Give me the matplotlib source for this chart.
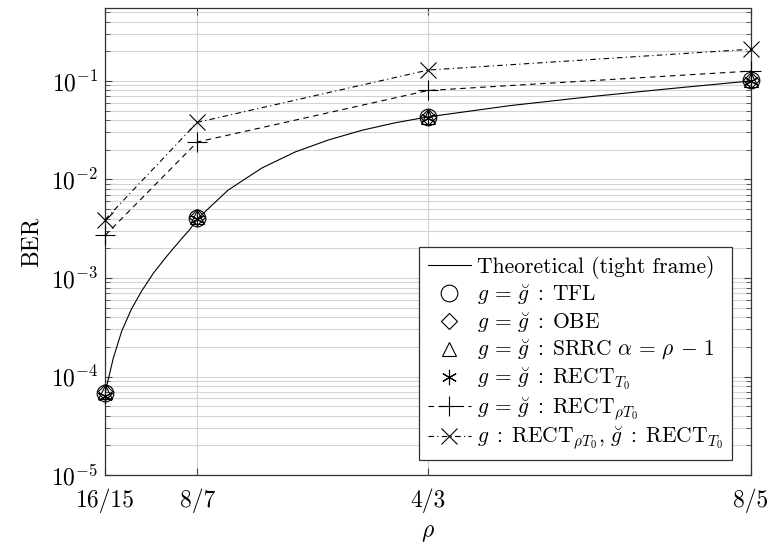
import matplotlib
matplotlib.use('Agg')
import matplotlib.pyplot as plt
from matplotlib.ticker import FixedLocator, LogLocator, NullFormatter

plt.rcParams['font.family'] = 'serif'
plt.rcParams['font.serif'] = ['cmr10', 'DejaVu Serif']
plt.rcParams['mathtext.fontset'] = 'cm'
plt.rcParams['axes.formatter.use_mathtext'] = True

# oversampling factors on the x axis
rho = [16 / 15, 8 / 7, 4 / 3, 8 / 5]
rho_labels = ['16/15', '8/7', '4/3', '8/5']

# theoretical curve
theo_rho = [1.0667, 1.0735, 1.0805, 1.0887, 1.0970, 1.1066, 1.1176, 1.1286,
            1.1369, 1.1429, 1.1683, 1.1963, 1.2236, 1.2508, 1.2789, 1.3062,
            1.3333, 1.4011, 1.4672, 1.5333, 1.6]
theo_ber = [6.8e-5, 1.54e-4, 2.9e-4, 4.9e-4, 7.4e-4, 1.12e-3, 1.66e-3, 2.4e-3,
            3.13e-3, 3.98e-3, 7.8e-3, 1.31e-2, 1.9e-2, 2.51e-2, 3.16e-2, 3.76e-2,
            4.32e-2, 5.62e-2, 6.92e-2, 8.36e-2, 1.0e-1]

# simulated BER
ber_tfl = [6.8e-5, 4.1e-3, 4.3e-2, 1.02e-1]
ber_obe = [6.9e-5, 4.2e-3, 4.35e-2, 1.03e-1]
ber_srrc = [7.0e-5, 4.2e-3, 4.3e-2, 1.02e-1]
ber_rect_t0 = [6.3e-5, 4.0e-3, 4.25e-2, 1.01e-1]
ber_rect_rho = [2.7e-3, 2.4e-2, 8.0e-2, 1.26e-1]
ber_mixed = [3.9e-3, 3.8e-2, 1.29e-1, 2.1e-1]

labels = [
    'Theoretical (tight frame)',
    r'$g\,=\,\breve{g}\;:\;\mathrm{TFL}$',
    r'$g\,=\,\breve{g}\;:\;\mathrm{OBE}$',
    r'$g\,=\,\breve{g}\;:\;\mathrm{SRRC}\ \alpha\,=\,\rho\,-\,1$',
    r'$g\,=\,\breve{g}\;:\;\mathrm{RECT}_{T_0}$',
    r'$g\,=\,\breve{g}\;:\;\mathrm{RECT}_{\rho T_0}$',
    r'$g\;:\;\mathrm{RECT}_{\rho T_0},\,\breve{g}\;:\;\mathrm{RECT}_{T_0}$',
]

fig = plt.figure(figsize=(7.7, 5.45), dpi=100)
ax = fig.add_axes([0.1364, 0.1284, 0.8389, 0.8569])

lw = 0.8
ax.plot(theo_rho, theo_ber, color='k', lw=lw, label=labels[0], zorder=3)
mk = dict(color='k', mfc='none', mew=0.8, ls='none', zorder=4, clip_on=False)
ax.plot(rho, ber_tfl, marker='o', ms=12, label=labels[1], **mk)
ax.plot(rho, ber_obe, marker='D', ms=8, label=labels[2], **mk)
ax.plot(rho, ber_srrc, marker='^', ms=10, label=labels[3], **mk)
ax.plot(rho, ber_rect_t0, marker=(6, 2, 0), ms=11, label=labels[4], **mk)
ax.plot(rho, ber_rect_rho, color='k', lw=lw, ls=(0, (5, 4)), marker='+',
        ms=15, mew=0.8, label=labels[5], zorder=4, clip_on=False)
ax.plot(rho, ber_mixed, color='k', lw=lw, ls=(0, (5, 3, 1, 3)), marker='x',
        ms=11, mew=0.8, label=labels[6], zorder=4, clip_on=False)

ax.set_yscale('log')
ax.set_xlim(rho[0], rho[-1])
ax.set_ylim(1e-5, 0.55)
ax.xaxis.set_major_locator(FixedLocator(rho))
ax.set_xticklabels(rho_labels)
ax.yaxis.set_major_locator(LogLocator(base=10, numticks=10))
ax.yaxis.set_minor_locator(LogLocator(base=10, subs=range(2, 10), numticks=20))
ax.yaxis.set_minor_formatter(NullFormatter())

ax.grid(True, which='major', color='#d4d4d4', lw=0.8)
ax.grid(True, which='minor', axis='y', color='#d4d4d4', lw=0.8)
ax.set_axisbelow(True)
ax.tick_params(which='both', direction='in', top=True, right=True,
               labelsize=17, color='#444444')
ax.tick_params(which='major', length=5, pad=5)
ax.tick_params(axis='x', which='major', pad=10)
ax.tick_params(which='minor', length=3.5)
for s in ax.spines.values():
    s.set_color('#333333')
    s.set_linewidth(0.9)

ax.set_xlabel(r'$\rho$', fontsize=17, labelpad=6)
ax.set_ylabel('BER', fontsize=17, labelpad=6)

leg = ax.legend(loc='lower right', bbox_to_anchor=(0.971, 0.032),
                fontsize=15.5, fancybox=False, framealpha=1,
                edgecolor='#333333', handlelength=2.0, handletextpad=0.3,
                borderpad=0.4, labelspacing=0.15, borderaxespad=0)
leg.get_frame().set_linewidth(0.9)

fig.savefig('out.png', dpi=100)
